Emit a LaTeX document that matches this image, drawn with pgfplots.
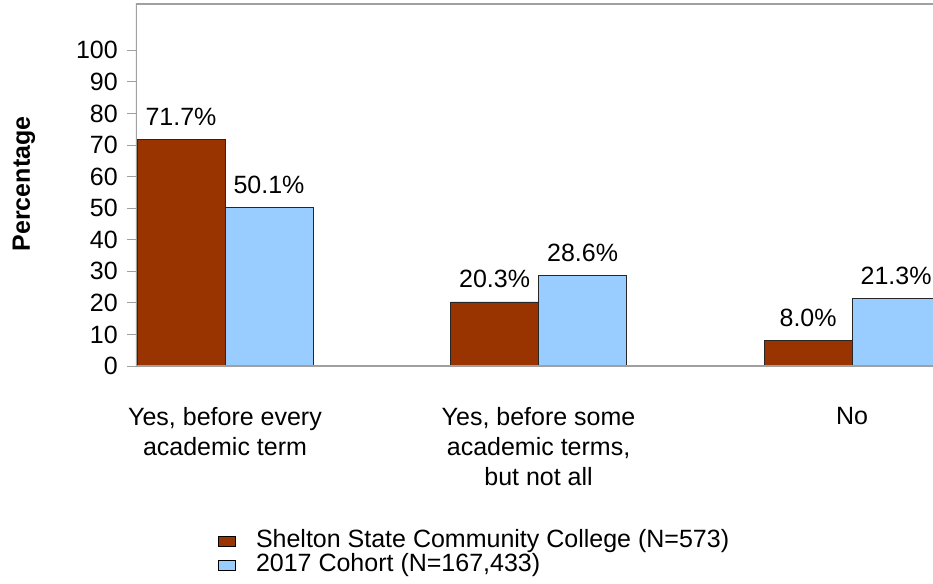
\documentclass[border=0pt]{standalone}
\usepackage{pgfplots}
\pgfplotsset{compat=1.18}
\usepackage{fontspec}
\setmainfont{Liberation Sans}
\definecolor{brownbar}{HTML}{993300}
\definecolor{bluebar}{HTML}{99CCFF}
\definecolor{axgray}{HTML}{A0A0A0}
\begin{document}
\begin{tikzpicture}[font=\fontsize{25}{30}\selectfont]
\begin{axis}[
  name=ax,
  scale only axis, width=797pt, height=362pt,
  xmin=-0.2839, xmax=2.258, ymin=0, ymax=114.7,
  ybar=0pt, bar width=88pt,
  axis line style={draw=none},
  /pgf/number format/assume math mode=true,
  ytick={0,10,...,100},
  xtick={0,1,2},
  xticklabels={{Yes, before every\\academic term},{Yes, before some\\academic terms,\\but not all},{No}},
  xticklabel style={align=center, anchor=north, inner sep=0pt, yshift=-32pt},
  xtick style={draw=none},
  ytick style={draw=axgray, line width=1pt},
  tick align=outside, major tick length=9pt,
  yticklabel style={anchor=east, inner sep=0pt, xshift=-9pt},
  ylabel={\textbf{Percentage}},
  ylabel style={at={(axis description cs:-0.1405,0.503)}, anchor=center},
  nodes near coords={\pgfmathprintnumber[fixed,fixed zerofill,precision=1]{\pgfplotspointmeta}\%},
  nodes near coords style={anchor=south, inner sep=0pt, yshift=14pt},
  legend style={draw=none, fill=none, at={(axis description cs:0.1029,-0.452)}, anchor=north west, row sep=0pt, column sep=20pt, inner sep=0pt, nodes={inner sep=0pt, text height=18pt, text depth=6pt}},
  legend cell align=left,
  legend image code/.code={\draw[#1, draw=black, line width=0.8pt] (0pt,-5pt) rectangle (17pt,5pt);},
]
\addplot[fill=brownbar, draw=black!85, line width=0.8pt] coordinates {(0,71.7) (1,20.3) (2,8.0)};
\addplot[fill=bluebar, draw=black!85, line width=0.8pt] coordinates {(0,50.1) (1,28.6) (2,21.3)};
\legend{Shelton State Community College (N=573), 2017 Cohort (N=167{,}433)}
\draw[axgray, line width=1.2pt] (rel axis cs:1,1) -- (rel axis cs:0,1) -- (rel axis cs:0,0) -- (rel axis cs:1,0);
\end{axis}
\pgfresetboundingbox
\path ([shift={(-136pt,-217pt)}]ax.south west) rectangle ([shift={(0pt,4pt)}]ax.north east);
\end{tikzpicture}
\end{document}
